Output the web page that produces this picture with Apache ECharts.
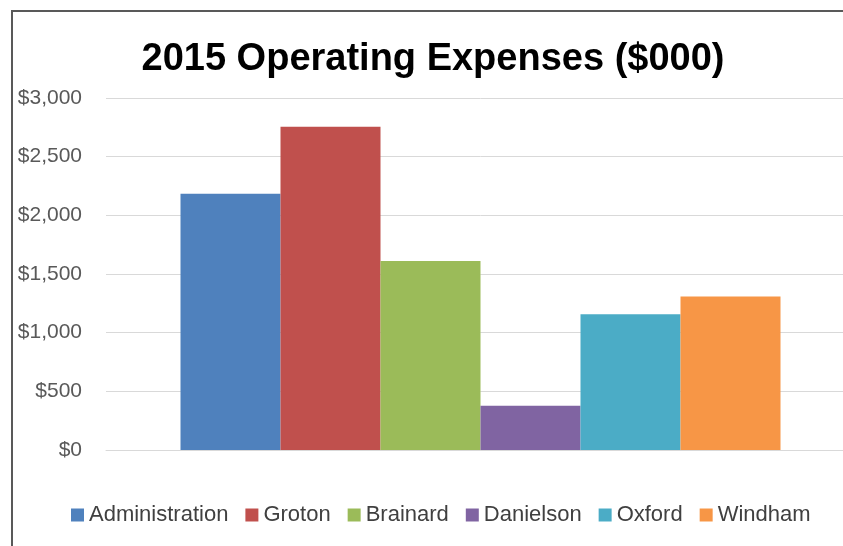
<!DOCTYPE html>
<html>
<head>
<meta charset="utf-8">
<script src="https://cdn.jsdelivr.net/npm/echarts@6/dist/echarts.min.js"></script>
<style>
html,body{margin:0;padding:0;background:#fff;overflow:hidden;width:843px;height:546px;}
#chart{position:absolute;left:0;top:0;width:866px;height:546px;}
</style>
</head>
<body>
<div id="chart"></div>
<script>
var categories = ['2015'];
var seriesNames = ['Administration', 'Groton', 'Brainard', 'Danielson', 'Oxford', 'Windham'];
var seriesValues = [2185, 2755, 1610, 378, 1158, 1309];
var seriesColors = ['#4f81bd', '#c0504d', '#9bbb59', '#8064a2', '#4bacc6', '#f79646'];
var yTicks = [0, 500, 1000, 1500, 2000, 2500, 3000];

var chart = echarts.init(document.getElementById('chart'), null, {renderer: 'canvas'});
var series = seriesNames.map(function (name, i) {
  return {
    name: name,
    type: 'bar',
    data: [seriesValues[i]],
    barWidth: 100,
    barGap: '0%',
    itemStyle: {color: seriesColors[i]}
  };
});

chart.setOption({
  animation: false,
  backgroundColor: '#ffffff',
  title: {
    text: '2015 Operating Expenses ($000)',
    left: 'center',
    top: 36,
    textStyle: {fontFamily: 'Liberation Sans', fontWeight: 'bold', fontSize: 38, color: '#000000'}
  },
  graphic: [{
    type: 'rect',
    shape: {x: 12, y: 11, width: 900, height: 600},
    style: {fill: 'none', stroke: '#595959', lineWidth: 2},
    silent: true
  }],
  legend: {
    data: seriesNames,
    left: 66,
    top: 499,
    icon: 'rect',
    itemWidth: 13,
    itemHeight: 13,
    itemGap: 17,
    textStyle: {fontFamily: 'Liberation Sans', fontSize: 22, color: '#404040'}
  },
  grid: {left: 106, right: 11, top: 98, bottom: 96, containLabel: false},
  xAxis: {
    type: 'category',
    data: categories,
    axisLine: {show: true, lineStyle: {color: '#d9d9d9', width: 1}},
    axisTick: {show: false},
    axisLabel: {show: false}
  },
  yAxis: {
    type: 'value',
    min: yTicks[0],
    max: yTicks[yTicks.length - 1],
    interval: yTicks[1] - yTicks[0],
    axisLine: {show: false},
    axisTick: {show: false},
    splitLine: {lineStyle: {color: '#d9d9d9', width: 1}},
    axisLabel: {
      margin: 24,
      fontFamily: 'Liberation Sans',
      fontSize: 21,
      color: '#595959',
      formatter: function (v) { return '$' + v.toLocaleString('en-US'); }
    }
  },
  series: series
});
</script>
</body>
</html>
